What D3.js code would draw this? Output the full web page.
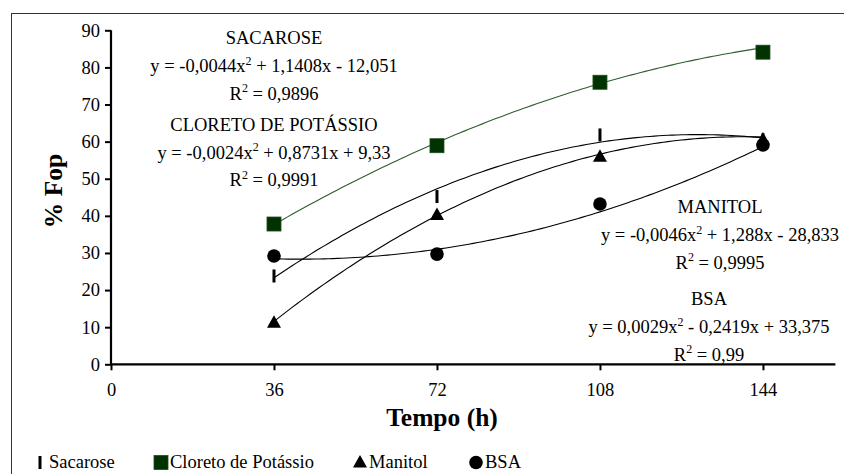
<!DOCTYPE html>
<html>
<head>
<meta charset="utf-8">
<script src="https://cdn.jsdelivr.net/npm/d3@7"></script>
<style>
  body { margin: 0; background: #fff; }
  svg text { font-family: "Liberation Serif", "Times New Roman", Times, "DejaVu Serif", serif; }
</style>
</head>
<body>
<script>
// values
const times = [36, 72, 108, 144];
const sacarose = [23.8, 45.2, 61.8, 60.5];
const cloreto = [37.8, 58.9, 76.0, 84.1];
const manitol = [11.2, 40.2, 55.9, 60.6];
const bsa = [29.2, 29.7, 43.2, 59.1];

// trendline coefficients [a, b, c] as printed on the chart
const sacaroseFit = [-0.0044, 1.1408, -12.051];
const cloretoFit = [-0.0024, 0.8731, 9.33];
const manitolFit = [-0.0046, 1.288, -28.833];
const bsaFit = [0.0029, -0.2419, 33.375];

const xTicks = [0, 36, 72, 108, 144];
const yTicks = [0, 10, 20, 30, 40, 50, 60, 70, 80, 90];

const width = 844;
const height = 474;

const xScale = d3.scaleLinear().domain([0, 160]).range([111, 835.4]);
const yScale = d3.scaleLinear().domain([0, 90]).range([364.3, 30.3]);

const svg = d3.select('body').append('svg')
  .attr('width', width)
  .attr('height', height);

// outer frame (runs off the right and bottom edge)
svg.append('rect')
  .attr('x', 11.5).attr('y', 13.5)
  .attr('width', 900).attr('height', 500)
  .attr('fill', 'none')
  .attr('stroke', '#333')
  .attr('stroke-width', 1);

// axes
const yAxis = d3.axisLeft(yScale).tickValues(yTicks).tickSize(6).tickPadding(5);
const gy = svg.append('g')
  .attr('transform', `translate(${xScale(0)},0)`)
  .call(yAxis);

const xAxis = d3.axisBottom(xScale).tickValues(xTicks).tickSize(6).tickPadding(13);
const gx = svg.append('g')
  .attr('transform', `translate(0,${yScale(0)})`)
  .call(xAxis);

[gx, gy].forEach(g => {
  g.attr('font-family', null).attr('font-size', 18.5);
  g.select('.domain').attr('stroke', '#000').attr('stroke-width', 2.2);
  g.selectAll('.tick line').attr('stroke', '#000').attr('stroke-width', 2);
  g.selectAll('.tick text').attr('fill', '#000');
});
gx.select('.domain').attr('d', `M${xScale(0)},0H${xScale(160)}`);
gy.select('.domain').attr('d', `M0,${yScale(0)}V${yScale(90)}`);

// axis titles
svg.append('text')
  .attr('x', 442).attr('y', 426)
  .attr('text-anchor', 'middle')
  .attr('font-weight', 'bold')
  .attr('font-size', 25.5)
  .text('Tempo (h)');

svg.append('text')
  .attr('transform', 'translate(62,191) rotate(-90)')
  .attr('text-anchor', 'middle')
  .attr('font-weight', 'bold')
  .attr('font-size', 25.5)
  .text('% Fop');

// trendlines from the printed equations
const series = [
  { name: 'Sacarose', values: sacarose, fit: sacaroseFit, line: '#000' },
  { name: 'Cloreto de Potássio', values: cloreto, fit: cloretoFit, line: '#2d5e2d' },
  { name: 'Manitol', values: manitol, fit: manitolFit, line: '#000' },
  { name: 'BSA', values: bsa, fit: bsaFit, line: '#000' }
];

const line = d3.line()
  .x(d => xScale(d[0]))
  .y(d => yScale(d[1]));

const xs = d3.range(times[0], times[times.length - 1] + 0.5, 1);

svg.append('g')
  .selectAll('path')
  .data(series)
  .join('path')
  .attr('d', s => line(xs.map(x => [x, s.fit[0] * x * x + s.fit[1] * x + s.fit[2]])))
  .attr('fill', 'none')
  .attr('stroke', s => s.line)
  .attr('stroke-width', 1.1);

// markers
function drawMarker(g, name, cx, cy) {
  if (name === 'Sacarose') {
    g.append('rect').attr('x', cx - 1.5).attr('y', cy - 6.5)
      .attr('width', 3).attr('height', 13).attr('fill', '#000');
  } else if (name === 'Cloreto de Potássio') {
    g.append('rect').attr('x', cx - 7).attr('y', cy - 7)
      .attr('width', 14).attr('height', 14)
      .attr('fill', '#003300').attr('stroke', '#1e4a1e').attr('stroke-width', 0.8);
  } else if (name === 'Manitol') {
    g.append('path')
      .attr('d', `M${cx},${cy - 7.5}L${cx + 7},${cy + 5}L${cx - 7},${cy + 5}Z`)
      .attr('fill', '#000');
  } else {
    g.append('circle').attr('cx', cx).attr('cy', cy).attr('r', 6.8).attr('fill', '#000');
  }
}

const markers = svg.append('g');
series.forEach(s => {
  s.values.forEach((v, i) => drawMarker(markers, s.name, xScale(times[i]), yScale(v)));
});

// equation labels
const labels = [
  { x: 274, y: 44, title: 'SACAROSE', eq: ['y = -0,0044x', ' + 1,1408x - 12,051'], r2: '0,9896' },
  { x: 274, y: 130.5, title: 'CLORETO DE POTÁSSIO', eq: ['y = -0,0024x', ' + 0,8731x + 9,33'], r2: '0,9991' },
  { x: 720, y: 213, title: 'MANITOL', eq: ['y = -0,0046x', ' + 1,288x - 28,833'], r2: '0,9995' },
  { x: 709, y: 305, title: 'BSA', eq: ['y = 0,0029x', ' - 0,2419x + 33,375'], r2: '0,99' }
];

labels.forEach(l => {
  const g = svg.append('g')
    .attr('font-size', 18.5)
    .attr('text-anchor', 'middle');
  g.append('text').attr('x', l.x).attr('y', l.y).text(l.title);

  const t1 = g.append('text').attr('x', l.x).attr('y', l.y + 28);
  t1.append('tspan').text(l.eq[0]);
  t1.append('tspan').attr('dy', -7.5).attr('font-size', 12).text('2');
  t1.append('tspan').attr('dy', 7.5).text(l.eq[1]);

  const t2 = g.append('text').attr('x', l.x).attr('y', l.y + 55.5);
  t2.append('tspan').text('R');
  t2.append('tspan').attr('dy', -7.5).attr('font-size', 12).text('2');
  t2.append('tspan').attr('dy', 7.5).text(' = ' + l.r2);
});

// legend
const legendX = [40, 161, 360, 476];
const legend = svg.append('g').attr('font-size', 18.5);
series.forEach((s, i) => {
  drawMarker(legend, s.name, legendX[i], 462.5);
  legend.append('text')
    .attr('x', legendX[i] + 9)
    .attr('y', 468)
    .text(s.name);
});
</script>
</body>
</html>
